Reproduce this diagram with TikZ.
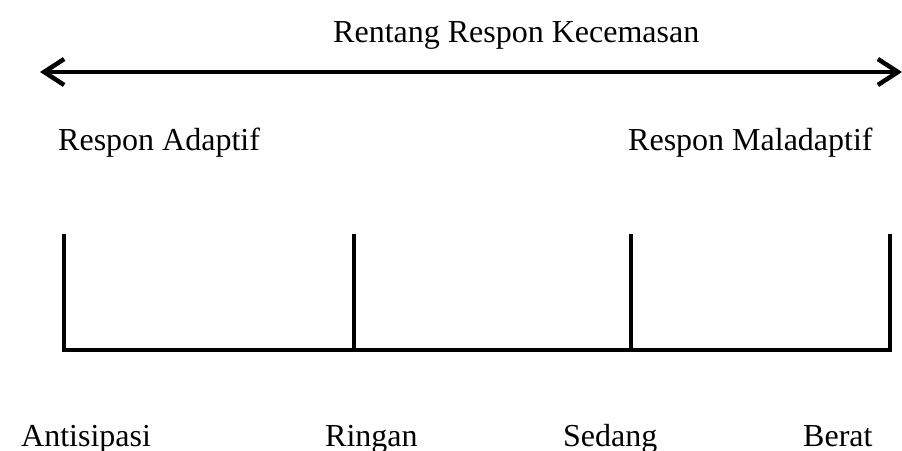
\documentclass[tikz,border=0pt]{standalone}
\usepackage{fontspec}
\setmainfont{Liberation Serif}
\usetikzlibrary{arrows.meta}
\begin{document}
\begin{tikzpicture}[x=1pt,y=-1pt,
  lbl/.style={anchor=base west,inner sep=0pt,font=\fontsize{32}{38}\selectfont},
  axis/.style={line width=4pt,{Straight Barb[length=20pt,width=26pt,line width=4.5pt]}-{Straight Barb[length=20pt,width=26pt,line width=4.5pt]}},
  tick/.style={line width=3.2pt}]
\useasboundingbox (0,0) rectangle (902,450);
% title and arrow
\node[lbl] (title) at (333,42) {Rentang Respon Kecemasan};
\coordinate (aL) at (40,72);
\coordinate (aR) at (902,72);
\draw[axis] (aL) -- (aR);
% response labels
\node[lbl] (adaptif) at (58,150) {Respon Adaptif};
\node[lbl] (maladaptif) at (628,150) {Respon Maladaptif};
% scale
\coordinate (t1) at (64,234);  \coordinate (b1) at (64,350);
\coordinate (t2) at (354,234); \coordinate (b2) at (354,350);
\coordinate (t3) at (631,234); \coordinate (b3) at (631,350);
\coordinate (t4) at (890,234); \coordinate (b4) at (890,350);
\draw[tick] (t1) -- (b1) -- (b4) -- (t4);
\draw[tick] (t2) -- (b2);
\draw[tick] (t3) -- (b3);
% level labels
\node[lbl] (antisipasi) at (21,446) {Antisipasi};
\node[lbl] (ringan) at (325,446) {Ringan};
\node[lbl] (sedang) at (563,446) {Sedang};
\node[lbl] (berat) at (803,446) {Berat};
\end{tikzpicture}
\end{document}
